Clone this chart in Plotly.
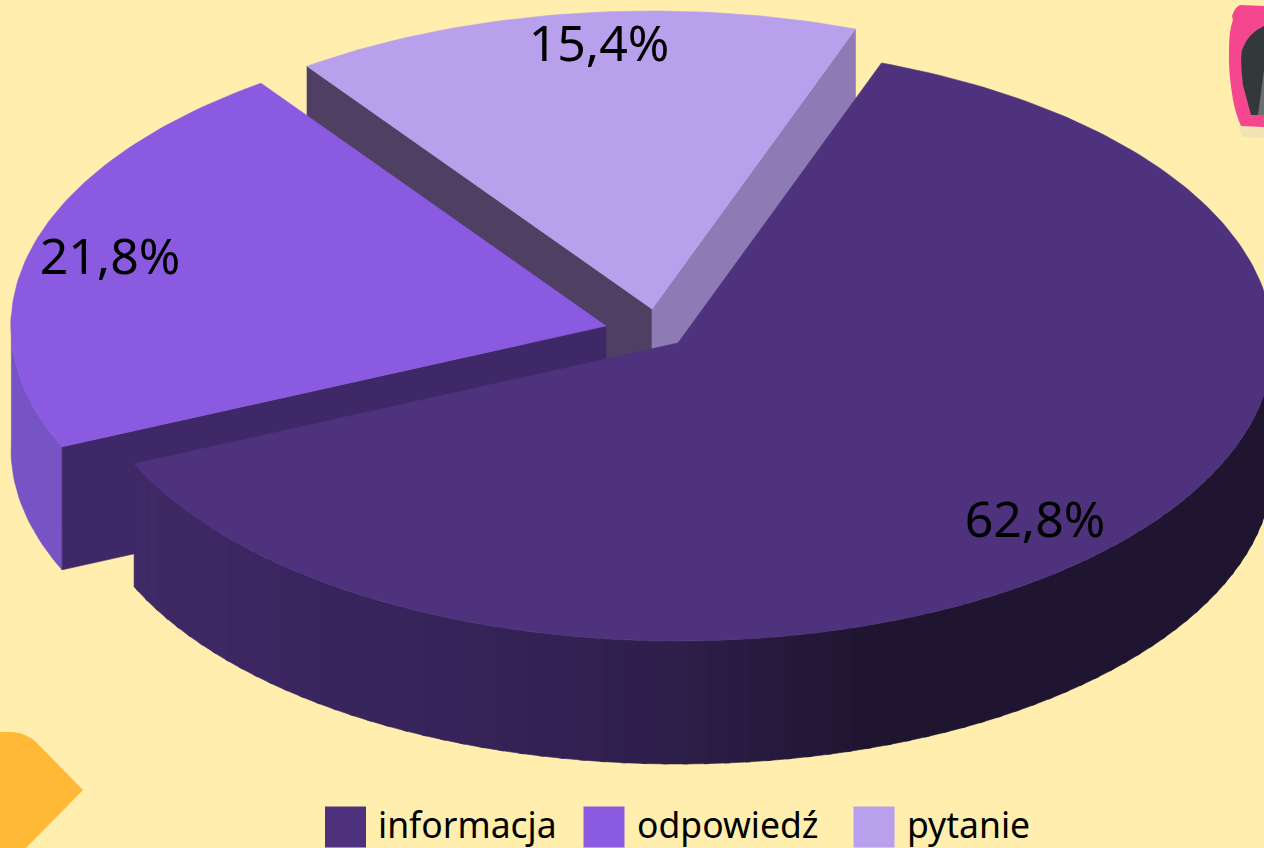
import math
import plotly.graph_objects as go

# --- data -------------------------------------------------------------
categories = ["informacja", "odpowiedź", "pytanie"]
percent_values = [62.8, 21.8, 15.4]

# --- style / geometry -------------------------------------------------
BG = "#FFEEAE"
top_colors = ["#4E327D", "#8A5AE0", "#B9A0EC"]
cut_colors = ["#3F2A66", "#3F2868", "#4F3F62"]
right_cut_color = "#8E7AB5"
odp_wall = "#7654C6"
RX, RY, DEPTH = 595, 298, 123
START = 20
CENTERS = [(678, 343), (606, 326), (652, 309)]
LABEL_XY = [(1035, 524), (110, 261), (599, 48)]
LEGEND_SQ_X = [345.5, 604, 874]
LEGEND_TXT_X = [378, 637, 907]
FONT = "Noto Sans"


def pt(c, a, dz=0):
    r = math.radians(a)
    return c[0] + RX * math.sin(r), c[1] - RY * math.cos(r) + dz


def arc(c, a0, a1, dz=0, step=1.0):
    n = max(2, int(abs(a1 - a0) / step) + 1)
    return [pt(c, a0 + (a1 - a0) * i / (n - 1), dz) for i in range(n)]


def poly(points, color):
    xs = [p[0] for p in points] + [points[0][0]]
    ys = [p[1] for p in points] + [points[0][1]]
    return go.Scatter(x=xs, y=ys, mode="lines", fill="toself", fillcolor=color,
                      line=dict(color=color, width=0.6), hoverinfo="skip", showlegend=False)


def lerp_color(stops, t):
    for (t0, c0), (t1, c1) in zip(stops, stops[1:]):
        if t <= t1:
            f = (t - t0) / (t1 - t0)
            return "rgb(%d,%d,%d)" % tuple(c0[i] + (c1[i] - c0[i]) * f for i in range(3))
    return "rgb(%d,%d,%d)" % stops[-1][1]


# slice angles follow the values (clockwise from north)
angles = []
a = START
for v in percent_values:
    angles.append((a, a + v * 3.6))
    a += v * 3.6

fig = go.Figure()

# pytanie (drawn first, furthest back)
c = CENTERS[2]
a0, a1 = angles[2]
p0, p1 = pt(c, a0 % 360), pt(c, a1 % 360)
fig.add_trace(poly([c, p0, (p0[0], p0[1] + DEPTH), (c[0], c[1] + DEPTH)], cut_colors[2]))
fig.add_trace(poly([c, p1, (p1[0], p1[1] + DEPTH), (c[0], c[1] + DEPTH)], right_cut_color))
fig.add_trace(poly([c] + arc(c, a0, a1), top_colors[2]))

# odpowiedz
c = CENTERS[1]
a0, a1 = angles[1]
p0 = pt(c, a0)
fig.add_trace(poly(arc(c, a0, 272) + arc(c, 272, a0, DEPTH), odp_wall))
fig.add_trace(poly([c, p0, (p0[0], p0[1] + DEPTH), (c[0], c[1] + DEPTH)], cut_colors[1]))
fig.add_trace(poly([c] + arc(c, a0, a1), top_colors[1]))

# informacja
c = CENTERS[0]
a0, a1 = angles[0]
stops = [(a0, (31, 21, 48)), (160, (31, 21, 48)), (180, (47, 31, 76)),
         (198, (54, 35, 88)), (233, (62, 41, 101)), (a1, (64, 42, 103))]
th = 85.0
while th < a1:
    nxt = min(th + 2, a1)
    end = nxt + 0.5 if nxt < a1 else nxt
    fig.add_trace(poly(arc(c, th, end) + arc(c, end, th, DEPTH), lerp_color(stops, th)))
    th = nxt
fig.add_trace(poly([c] + arc(c, a0, a1), top_colors[0]))

# percent labels
fig.add_trace(go.Scatter(
    x=[p[0] for p in LABEL_XY], y=[p[1] for p in LABEL_XY], mode="text",
    text=[f"{v:.1f}%".replace(".", ",") for v in percent_values],
    textposition="middle center", textfont=dict(family=FONT, size=50, color="#000000"),
    hoverinfo="skip", showlegend=False))

# legend
fig.add_trace(go.Scatter(
    x=LEGEND_SQ_X, y=[827] * 3, mode="markers",
    marker=dict(symbol="square", size=41, color=top_colors, line=dict(width=0)),
    hoverinfo="skip", showlegend=False))
fig.add_trace(go.Scatter(
    x=LEGEND_TXT_X, y=[829] * 3, mode="text", text=categories,
    textposition="middle right", textfont=dict(family=FONT, size=35.5, color="#000000"),
    hoverinfo="skip", showlegend=False))

shapes = [
    dict(type="path", layer="below", line=dict(width=0), fillcolor="#F0E3B4",
         path="M1238,126 L1264,126 L1264,138 L1242,137 Z"),
    dict(type="path", layer="below", line=dict(width=0), fillcolor="#F5478F",
         path="M1240,5 L1264,6 L1264,127 L1241,126 Q1236,115 1233,100 Q1228,70 1229,50 "
              "Q1229,30 1233,20 L1232,16 Q1235,7 1240,5 Z"),
    dict(type="path", layer="below", line=dict(width=0), fillcolor="#333838",
         path="M1264,26 Q1248,33 1242,50 Q1240,60 1243,85 L1251,115 L1264,115 Z"),
    dict(type="path", layer="below", line=dict(width=0), fillcolor="#6E6E6E",
         path="M1264,70 L1258,115 L1264,115 Z"),
    dict(type="path", layer="below", line=dict(width=0), fillcolor="#FFB937",
         path="M0,732 L12,732 Q27,733 37,743 L83,790 L26,848 L0,848 Z"),
]

fig.update_layout(
    width=1264, height=848, margin=dict(l=0, r=0, t=0, b=0),
    paper_bgcolor=BG, plot_bgcolor=BG, showlegend=False, shapes=shapes,
    xaxis=dict(range=[0, 1264], visible=False, fixedrange=True),
    yaxis=dict(range=[848, 0], visible=False, fixedrange=True),
)
fig.write_html("out.html", config=dict(displayModeBar=False),
               post_script="document.body.style.margin='0';document.documentElement.style.overflow='hidden';document.body.style.background='#FFEEAE';")
